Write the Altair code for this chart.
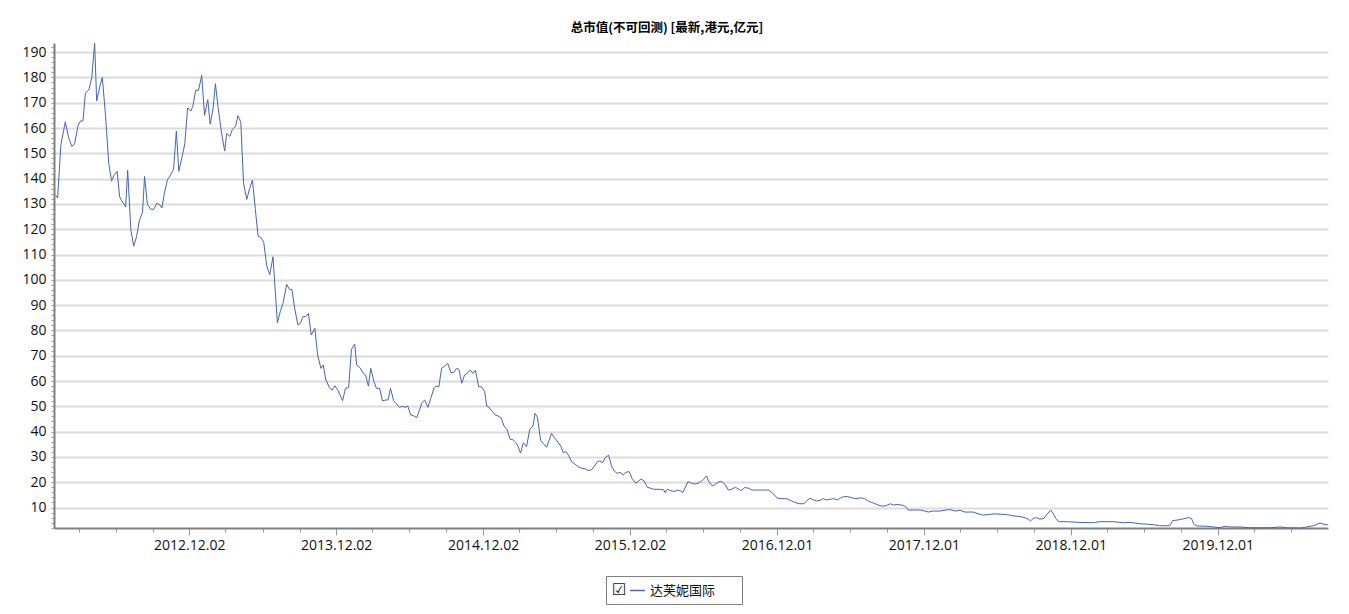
import altair as alt
import pandas as pd

title_text = "总市值(不可回测) [最新,港元,亿元]"
series_name = "达芙妮国际"

dates = [
"2012-01-05","2012-01-10","2012-01-18","2012-01-29","2012-02-06","2012-02-14","2012-02-21","2012-03-01","2012-03-07","2012-03-13",
"2012-03-19","2012-03-28","2012-04-04","2012-04-11","2012-04-16","2012-04-24","2012-04-30","2012-05-08","2012-05-16","2012-05-23",
"2012-05-29","2012-06-06","2012-06-12","2012-06-19","2012-06-27","2012-07-02","2012-07-10","2012-07-17","2012-07-24","2012-07-31",
"2012-08-08","2012-08-13","2012-08-20","2012-08-28","2012-09-05","2012-09-12","2012-09-20","2012-09-25","2012-10-01","2012-10-09",
"2012-10-16","2012-10-24","2012-10-31","2012-11-06","2012-11-14","2012-11-21","2012-11-28","2012-12-06","2012-12-11","2012-12-18",
"2012-12-25","2013-01-02","2013-01-09","2013-01-17","2013-01-23","2013-01-30","2013-02-05","2013-02-12","2013-02-20","2013-02-28",
"2013-03-05","2013-03-13","2013-03-19","2013-03-27","2013-04-02","2013-04-09","2013-04-16","2013-04-24","2013-05-01","2013-05-08",
"2013-05-15","2013-05-22","2013-05-30","2013-06-05","2013-06-13","2013-06-20","2013-06-28","2013-07-09","2013-07-16","2013-07-23",
"2013-08-01","2013-08-08","2013-08-14","2013-08-21","2013-08-29","2013-09-04","2013-09-11","2013-09-17","2013-09-24","2013-10-01",
"2013-10-10","2013-10-17","2013-10-25","2013-10-31","2013-11-06","2013-11-15","2013-11-22","2013-11-29","2013-12-06","2013-12-18",
"2013-12-25","2014-01-02","2014-01-09","2014-01-17","2014-01-22","2014-01-30","2014-02-06","2014-02-13","2014-02-20","2014-02-26",
"2014-03-06","2014-03-12","2014-03-20","2014-03-27","2014-04-04","2014-04-10","2014-04-16","2014-04-24","2014-05-01","2014-05-08",
"2014-05-15","2014-05-22","2014-05-29","2014-06-05","2014-06-13","2014-06-20","2014-06-27","2014-07-03","2014-07-10","2014-07-18",
"2014-07-25","2014-08-02","2014-08-07","2014-08-14","2014-08-21","2014-08-29","2014-09-05","2014-09-13","2014-09-20","2014-09-27",
"2014-10-03","2014-10-10","2014-10-17","2014-10-23","2014-10-31","2014-11-07","2014-11-13","2014-11-21","2014-11-28","2014-12-06",
"2014-12-11","2014-12-19","2014-12-25","2015-01-01","2015-01-08","2015-01-16","2015-01-23","2015-01-31","2015-02-07","2015-02-15",
"2015-02-22","2015-02-27","2015-03-05","2015-03-12","2015-03-20","2015-03-28","2015-04-05","2015-04-10","2015-04-16","2015-04-24",
"2015-04-30","2015-05-09","2015-05-15","2015-05-21","2015-05-27","2015-06-02","2015-06-09","2015-06-13","2015-06-19","2015-06-26",
"2015-07-03","2015-07-10","2015-07-18","2015-07-26","2015-08-04","2015-08-12","2015-08-20","2015-08-28","2015-09-04","2015-09-12",
"2015-09-18","2015-09-25","2015-10-02","2015-10-10","2015-10-17","2015-10-24","2015-10-31","2015-11-07","2015-11-15","2015-11-22",
"2015-11-30","2015-12-07","2015-12-16","2015-12-22","2015-12-29","2016-01-06","2016-01-14","2016-01-22","2016-01-30","2016-02-07",
"2016-02-16","2016-02-24","2016-02-27","2016-03-04","2016-03-12","2016-03-21","2016-03-29","2016-04-06","2016-04-11","2016-04-19",
"2016-04-24","2016-05-03","2016-05-11","2016-05-19","2016-05-28","2016-06-02","2016-06-09","2016-06-15","2016-06-24","2016-07-02",
"2016-07-10","2016-07-18","2016-07-26","2016-08-02","2016-08-10","2016-08-20","2016-08-28","2016-09-04","2016-09-12","2016-09-22",
"2016-09-30","2016-10-09","2016-10-17","2016-10-25","2016-11-03","2016-11-11","2016-11-22","2016-12-02","2016-12-13","2016-12-25",
"2017-01-04","2017-01-15","2017-01-25","2017-02-06","2017-02-13","2017-02-21","2017-03-01","2017-03-10","2017-03-18","2017-03-26",
"2017-04-03","2017-04-11","2017-04-21","2017-04-30","2017-05-08","2017-05-16","2017-05-24","2017-05-31","2017-06-12","2017-06-29",
"2017-07-07","2017-07-16","2017-07-28","2017-08-12","2017-08-22","2017-08-30","2017-09-09","2017-09-16","2017-09-28","2017-10-11",
"2017-10-17","2017-10-23","2017-11-04","2017-11-21","2017-12-04","2017-12-12","2017-12-24","2018-01-10","2018-01-25","2018-02-04",
"2018-02-16","2018-03-01","2018-03-13","2018-04-03","2018-04-15","2018-04-28","2018-05-14","2018-05-27","2018-06-12","2018-06-25",
"2018-07-11","2018-07-28","2018-08-09","2018-08-17","2018-08-23","2018-08-30","2018-09-07","2018-09-15","2018-09-25","2018-10-03",
"2018-10-12","2018-10-18","2018-10-25","2018-11-01","2018-11-21","2018-12-24","2019-01-26","2019-02-11","2019-03-16","2019-04-10",
"2019-04-27","2019-05-22","2019-06-07","2019-06-24","2019-07-10","2019-07-23","2019-08-04","2019-08-11","2019-08-25","2019-09-06",
"2019-09-19","2019-09-27","2019-10-03","2019-10-11","2019-11-04","2019-11-20","2019-12-07","2019-12-19","2019-12-31","2020-01-25",
"2020-02-19","2020-03-15","2020-04-09","2020-05-04","2020-05-21","2020-06-23","2020-07-09","2020-07-26","2020-08-11","2020-08-24",
"2020-08-31",
]

values = [
133.4,132.4,153.2,162.4,156.4,152.8,153.6,161.1,162.8,162.8,
173.8,175.2,180.0,193.6,170.7,176.5,180.0,165.0,146.0,139.0,
141.3,142.9,132.8,130.8,128.8,143.3,119.6,113.3,117.0,123.3,
126.8,140.9,129.9,127.9,127.9,130.2,129.6,128.4,134.1,139.6,
141.3,143.7,158.8,142.9,148.5,153.8,168.0,166.7,168.6,174.9,
174.9,180.8,165.0,171.2,161.5,167.5,177.5,167.7,158.4,150.9,
157.8,156.7,159.4,160.7,164.9,162.4,138.0,131.8,136.1,139.4,
128.2,117.2,116.6,114.8,105.1,102.0,109.1,83.0,87.4,90.7,
98.2,96.2,96.2,88.7,82.1,82.8,85.6,85.4,86.7,78.2,
80.8,70.3,65.0,66.3,60.7,57.4,56.4,58.1,56.4,52.2,
57.1,57.4,72.5,74.6,66.3,65.3,63.3,62.4,58.0,65.0,
59.7,57.1,57.1,52.1,52.5,52.5,57.1,52.1,50.9,49.6,
50.0,49.6,50.1,46.6,46.2,45.5,48.5,51.4,52.5,49.6,
53.2,57.1,58.0,57.7,65.0,65.9,67.0,63.3,63.3,65.0,
64.6,59.1,62.4,63.0,64.3,63.0,64.3,57.7,57.7,55.8,
50.1,49.2,47.9,46.6,46.2,45.3,42.2,40.7,37.0,36.7,
35.6,34.1,31.5,35.6,34.1,40.9,42.2,47.2,45.7,36.5,
35.4,33.8,36.5,39.3,37.8,36.7,35.1,34.3,31.7,32.1,
30.4,28.1,27.2,26.2,25.5,25.3,24.6,24.9,26.2,28.1,
28.4,27.7,29.8,30.7,26.4,24.4,23.5,23.9,22.9,23.9,
24.2,21.5,19.6,20.2,21.3,20.5,18.0,17.6,17.2,17.2,
17.2,16.9,15.9,17.2,16.7,16.3,16.9,16.5,15.9,18.5,
20.2,19.6,19.3,19.6,20.5,21.2,22.5,20.2,18.5,19.3,
20.2,20.2,18.9,16.9,17.2,18.0,17.2,16.7,17.9,17.6,
16.9,16.9,16.9,16.9,16.9,16.9,15.4,13.7,13.5,13.5,
12.8,12.0,11.5,11.5,12.6,13.7,13.0,12.6,12.8,13.5,
13.0,13.2,13.5,13.0,13.7,14.3,14.3,14.1,13.5,13.8,
13.5,12.5,11.8,10.8,10.5,10.8,11.5,11.0,11.2,10.8,
10.3,9.0,9.0,9.0,8.6,8.2,8.6,8.6,9.0,9.2,
8.6,8.9,8.2,8.2,7.5,7.0,7.3,7.5,7.3,7.2,
6.7,6.4,6.0,5.4,4.7,5.7,6.0,5.4,5.7,7.3,
9.0,7.7,5.7,4.4,4.4,4.1,4.0,4.4,4.4,4.0,
4.1,3.6,3.4,3.2,2.8,2.8,2.8,4.8,5.1,5.5,
6.0,5.7,3.3,2.7,2.6,2.3,2.0,2.6,2.3,2.3,
2.0,2.0,2.0,2.3,2.0,1.9,2.3,2.8,3.9,3.2,
3.2,
]

x_tick_dates = [
"2012-03-02","2012-06-02","2012-09-02","2012-12-02",
"2013-03-02","2013-06-02","2013-09-02","2013-12-02",
"2014-03-02","2014-06-02","2014-09-02","2014-12-02",
"2015-03-02","2015-06-02","2015-09-02","2015-12-02",
"2016-03-01","2016-06-01","2016-09-01","2016-12-01",
"2017-03-01","2017-06-01","2017-09-01","2017-12-01",
"2018-03-01","2018-06-01","2018-09-01","2018-12-01",
"2019-03-01","2019-06-01","2019-09-01","2019-12-01",
"2020-03-01","2020-06-01",
]
x_domain = ["2012-01-01", "2020-08-31"]
y_ticks = list(range(2, 194, 2))
y_domain = [1.9, 193.6]


def dt(s):
    y, m, d = (int(p) for p in s.split("-"))
    return alt.DateTime(year=y, month=m, date=d, utc=True)


df = pd.DataFrame({"date": dates, "value": values, "series": series_name})

label_font = "Open Sans"

line = alt.Chart(df).mark_line(strokeWidth=1, interpolate="linear").encode(
    x=alt.X(
        "date:T",
        scale=alt.Scale(type="utc", domain=[dt(s) for s in x_domain], nice=False),
        axis=alt.Axis(
            title=None,
            values=[dt(s) for s in x_tick_dates],
            labelExpr="utcmonth(datum.value) == 11 ? utcFormat(datum.value, '%Y.%m.%d') : ''",
            labelOverlap=False,
            labelFlush=False,
            grid=False,
            tickSize={"condition": {"test": "utcmonth(datum.value) == 11", "value": 7}, "value": 4},
            tickColor="#9a9a9a",
            tickWidth=1,
            domainColor="#808080",
            domainWidth=2,
            labelFont=label_font,
            labelFontSize=14,
            labelColor="#111111",
            labelPadding=3,
        ),
    ),
    y=alt.Y(
        "value:Q",
        scale=alt.Scale(domain=y_domain, nice=False, zero=False),
        axis=alt.Axis(
            title=None,
            values=y_ticks,
            labelExpr="datum.value % 10 == 0 ? datum.label : ''",
            gridOpacity={"condition": {"test": "datum.value % 10 == 0", "value": 1}, "value": 0},
            gridColor="#dcdcdc",
            gridWidth=2,
            tickSize=3,
            tickColor="#a0a0a0",
            domainColor="#808080",
            domainWidth=2,
            labelFont=label_font,
            labelFontSize=14,
            labelColor="#111111",
            labelPadding=5,
            labelOverlap=False,
            labelFlush=False,
        ),
    ),
    color=alt.Color(
        "series:N",
        scale=alt.Scale(domain=[series_name], range=["#4467ad"]),
        legend=alt.Legend(
            title="☑",
            titleOrient="left",
            titleFont="DejaVu Sans",
            titleFontSize=16,
            titleFontWeight="normal",
            titleColor="#111111",
            titlePadding=2,
            orient="none",
            legendX=552,
            legendY=533,
            direction="horizontal",
            symbolType="stroke",
            symbolSize=220,
            symbolStrokeWidth=1.5,
            symbolOffset=0,
            labelFont="Noto Sans CJK SC",
            labelFontSize=13,
            labelColor="#111111",
            labelExpr="datum.label + '\u2800\u2800'",
            labelLimit=300,
            strokeColor="#808080",
            padding=6,
        ),
    ),
)

chart = line.properties(
    width=1274,
    height=485,
    padding={"left": 46, "top": 35, "right": 10, "bottom": 80},
    autosize=alt.AutoSizeParams(type="none"),
    title=alt.TitleParams(
        text=title_text,
        font="Noto Sans CJK SC",
        fontSize=12.5,
        fontWeight="bold",
        color="#000000",
        anchor="middle",
        dx=-24,
        offset=6,
    ),
).configure(background="white").configure_view(stroke=None)

chart.save("out.html", embed_options={"renderer": "svg", "actions": False})
